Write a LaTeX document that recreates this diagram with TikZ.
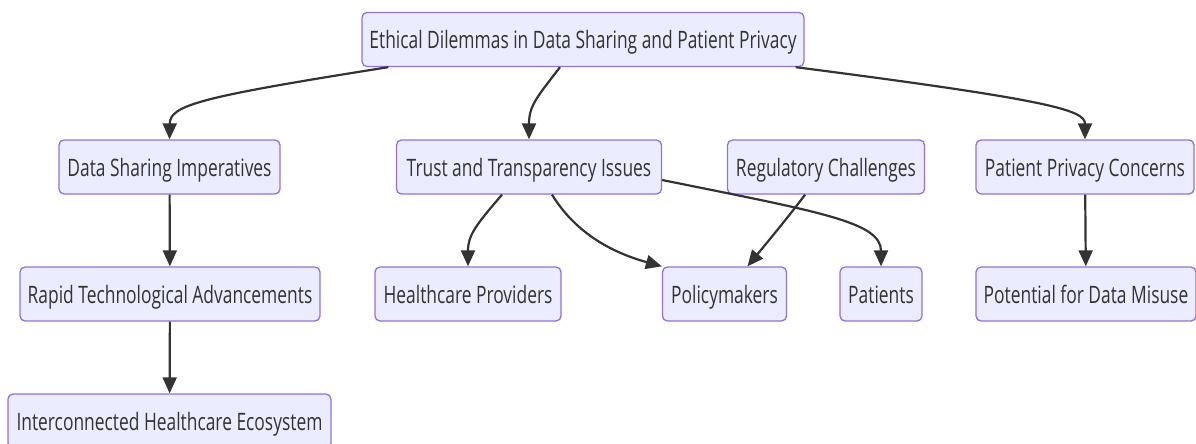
\documentclass[tikz,border=0pt]{standalone}
\usepackage{fontspec}
\setmainfont[FakeStretch=0.725]{Open Sans}
\usetikzlibrary{arrows.meta}
\definecolor{boxfill}{HTML}{ECECFF}
\definecolor{boxline}{HTML}{9370DB}
\definecolor{ink}{HTML}{333333}
\begin{document}
\begin{tikzpicture}[x=1pt,y=-1pt,
  box/.style={draw=boxline,fill=boxfill,line width=1.3pt,rounded corners=5pt,
    minimum height=54pt,inner sep=0pt,text height=18pt,text depth=0pt,
    text=ink,font=\fontsize{24}{27}\selectfont},
  link/.style={draw=ink,line width=2.2pt,-{Triangle[length=16pt,width=14pt]}}]
\useasboundingbox (0,0) rectangle (1196,444);
% nodes
\node[box,minimum width=442pt] (top) at (583,39.5) {Ethical Dilemmas in Data Sharing and Patient Privacy};
\node[box,minimum width=221pt] (ds) at (169.5,167) {Data Sharing Imperatives};
\node[box,minimum width=265pt] (tt) at (529,167) {Trust and Transparency Issues};
\node[box,minimum width=197pt] (rc) at (826,167) {Regulatory Challenges};
\node[box,minimum width=218pt] (pp) at (1085,167) {Patient Privacy Concerns};
\node[box,minimum width=300pt] (rt) at (170,294) {Rapid Technological Advancements};
\node[box,minimum width=186pt] (hp) at (468,294) {Healthcare Providers};
\node[box,minimum width=124pt] (pm) at (724.5,294) {Policymakers};
\node[box,minimum width=82pt] (pa) at (881,294) {Patients};
\node[box,minimum width=220pt] (pd) at (1086,294) {Potential for Data Misuse};
\node[box,minimum width=323pt] (ie) at (169.5,421) {Interconnected Healthcare Ecosystem};
% connectors
\draw[link] ([xshift=27pt]top.south west) .. controls (200,97) and (170,105) .. (ds.north);
\draw[link] ([xshift=-23pt]top.south) .. controls (538,96) and (529,105) .. (tt.north);
\draw[link] ([xshift=-9pt]top.south east) .. controls (1050,100) and (1085,110) .. (pp.north);
\draw[link] (ds) -- (rt);
\draw[link] (rt) -- (ie);
\draw[link] (pp) -- (pd);
\draw[link] ([xshift=-27pt]tt.south) .. controls (476,225) and (468,235) .. (hp.north);
\draw[link] ([xshift=23pt]tt.south) .. controls (575,232) and (610,252) .. (pm.north west);
\draw[link] ([yshift=-13pt]tt.east) .. controls (820,212) and (881,222) .. (pa.north);
\draw[link] ([xshift=-21pt]rc.south) .. controls (790,215) and (765,245) .. ([xshift=23pt]pm.north);
\end{tikzpicture}
\end{document}
